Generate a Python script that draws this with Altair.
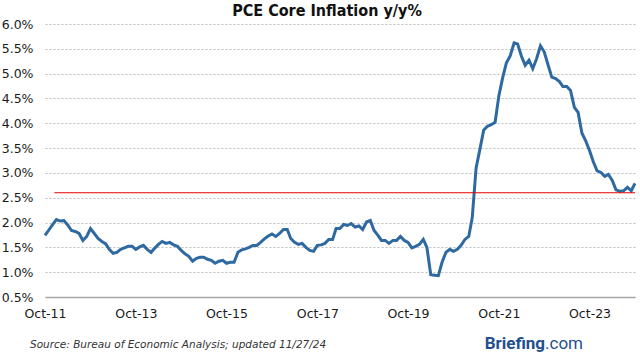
import altair as alt
import pandas as pd

# Monthly core PCE y/y (%), Oct 2011 .. Oct 2024
start_month = "2011-10-01"
values = [
    1.74, 1.85, 1.96,                                                   # 2011 Oct-Dec
    2.06, 2.03, 2.04, 1.95, 1.84, 1.82, 1.78, 1.64, 1.72, 1.88, 1.78, 1.68,  # 2012
    1.62, 1.57, 1.46, 1.38, 1.40, 1.46, 1.49, 1.52, 1.52, 1.46, 1.51, 1.54,  # 2013
    1.46, 1.40, 1.48, 1.56, 1.62, 1.58, 1.60, 1.55, 1.52, 1.44, 1.37, 1.32,  # 2014
    1.22, 1.28, 1.30, 1.30, 1.26, 1.24, 1.18, 1.22, 1.24, 1.18, 1.20, 1.20,  # 2015
    1.40, 1.45, 1.47, 1.50, 1.54, 1.54, 1.60, 1.67, 1.73, 1.77, 1.72, 1.78,  # 2016
    1.86, 1.86, 1.68, 1.60, 1.56, 1.58, 1.50, 1.44, 1.42, 1.54, 1.55, 1.58,  # 2017
    1.66, 1.66, 1.88, 1.88, 1.96, 1.94, 1.98, 1.91, 1.93, 1.86, 2.01, 2.04,  # 2018
    1.84, 1.74, 1.64, 1.64, 1.58, 1.64, 1.64, 1.72, 1.64, 1.60, 1.49, 1.52,  # 2019
    1.56, 1.66, 1.50, 0.95, 0.94, 0.93, 1.20, 1.40, 1.46, 1.42, 1.46, 1.54,  # 2020
    1.66, 1.72, 2.10, 3.10, 3.47, 3.86, 3.94, 3.97, 4.02, 4.55, 4.92, 5.22,  # 2021
    5.36, 5.62, 5.60, 5.35, 5.17, 5.27, 5.10, 5.30, 5.56, 5.44, 5.18, 4.93,  # 2022
    4.90, 4.84, 4.74, 4.74, 4.66, 4.32, 4.22, 3.80, 3.64, 3.45, 3.22, 3.04,  # 2023
    3.01, 2.93, 2.97, 2.85, 2.66, 2.63, 2.64, 2.71, 2.64, 2.79,              # 2024 Jan-Oct
]
dates = pd.date_range(start_month, periods=len(values), freq="MS").strftime("%Y-%m-%dT00:00:00")
df = pd.DataFrame({"date": dates, "value": values})

ref_value = 2.60
ref_start = "2011-12-15T00:00:00"
ref_end = "2024-10-01T00:00:00"
ref_df = pd.DataFrame({"date": [ref_start], "end": [ref_end], "value": [ref_value]})

y_ticks = [0.5, 1.0, 1.5, 2.0, 2.5, 3.0, 3.5, 4.0, 4.5, 5.0, 5.5, 6.0]
x_tick_years = [2011, 2013, 2015, 2017, 2019, 2021, 2023]

title_text = "PCE Core Inflation y/y%"
source_text = "Source: Bureau of Economic Analysis; updated 11/27/24"
logo_bold = "Briefing"
logo_light = ".com"

FONT = "DejaVu Sans"
COND = "DejaVu Sans Condensed"

x_scale = alt.Scale(domain=[alt.DateTime(year=2011, month=10, date=1),
                            alt.DateTime(year=2024, month=10, date=1)])
y_scale = alt.Scale(domain=[0.5, 6.0], nice=False, zero=False)

x_enc = alt.X(
    "date:T", scale=x_scale,
    axis=alt.Axis(
        values=[alt.DateTime(year=y, month=10, date=1) for y in x_tick_years],
        tickCount=20,
        format="%b-%y", title=None, grid=False, ticks=False,
        domain=True, domainColor="#a6a6a6", domainWidth=1.5,
        labelFont=FONT, labelFontSize=12.5, labelColor="#1a1a1a",
        labelPadding=10, labelAlign="center", labelOverlap=False,
    ),
)
y_enc = alt.Y(
    "value:Q", scale=y_scale,
    axis=alt.Axis(
        values=y_ticks, tickCount=20,
        labelExpr="format(datum.value, '.1f') + '%'",
        title=None, grid=True, gridColor="#bdbdbd", gridDash=[2, 2], gridWidth=1,
        ticks=False, domain=False, labelOverlap=False, labelFlush=False,
        labelBound=False,
        labelFont=FONT, labelFontSize=12.5, labelColor="#1a1a1a", labelPadding=12,
    ),
)

line = alt.Chart(df).mark_line(color="#2e6aa1", strokeWidth=3).encode(x=x_enc, y=y_enc)

ref = alt.Chart(ref_df).mark_rule(color="#e60000", strokeWidth=1.2).encode(
    x=x_enc, x2="end:T", y=y_enc,
)

title = alt.Chart(pd.DataFrame({"t": [title_text]})).mark_text(
    font=COND, fontSize=16, fontWeight="bold", color="#111111",
    align="center", baseline="middle"
).encode(text="t:N", x=alt.value(282), y=alt.value(-13))

source = alt.Chart(pd.DataFrame({"t": [source_text]})).mark_text(
    font=FONT, fontSize=10.5, fontStyle="italic", color="#333333",
    align="left", baseline="middle"
).encode(text="t:N", x=alt.value(-15), y=alt.value(321))

logo1 = alt.Chart(pd.DataFrame({"t": [logo_bold]})).mark_text(
    font="Roboto", fontSize=17, fontWeight="bold", color="#1f4f8f",
    align="right", baseline="middle"
).encode(text="t:N", x=alt.value(500), y=alt.value(320))

logo2 = alt.Chart(pd.DataFrame({"t": [logo_light]})).mark_text(
    font="Roboto", fontSize=17, color="#1f4f8f",
    align="left", baseline="middle"
).encode(text="t:N", x=alt.value(500), y=alt.value(320))

chart = alt.layer(line, ref, title, source, logo1, logo2).properties(
    width=590, height=273,
    autosize=alt.AutoSizeParams(type="none"),
    padding={"left": 45, "top": 24, "right": 5, "bottom": 59},
    background="white",
).configure_view(stroke=None)

chart.save("out.html", embed_options={"renderer": "svg", "actions": False})
